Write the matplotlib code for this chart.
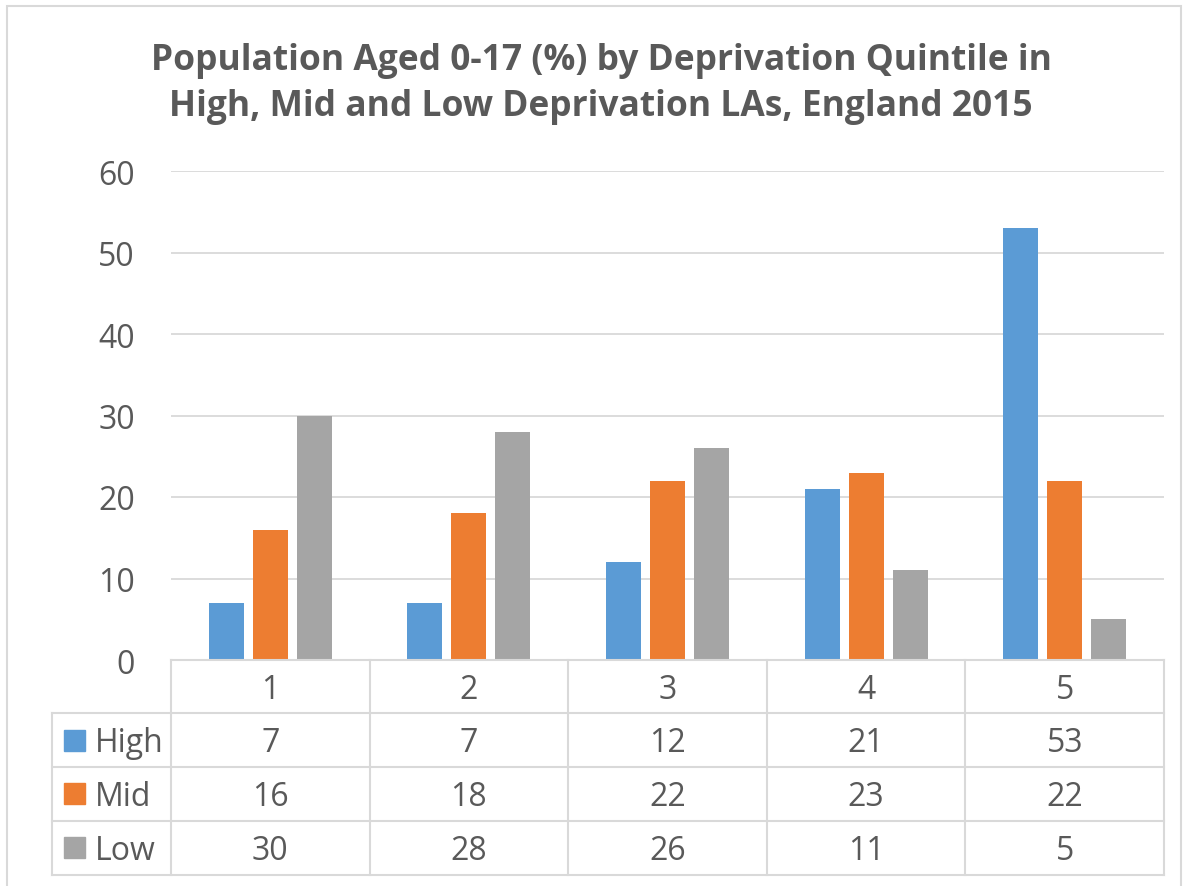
import matplotlib.pyplot as plt
import numpy as np
from matplotlib.patches import Rectangle

quintiles = ['1', '2', '3', '4', '5']
series_names = ['High', 'Mid', 'Low']
high = [7, 7, 12, 21, 53]
mid = [16, 18, 22, 23, 22]
low = [30, 28, 26, 11, 5]
colors = ['#5b9bd5', '#ed7d31', '#a5a5a5']

plt.rcParams['font.family'] = ['Open Sans', 'DejaVu Sans']
text_col = '#595959'
grid_col = '#d9d9d9'

W, H = 1189, 887
fig = plt.figure(figsize=(W / 100, H / 100), dpi=100)

# chart border
fig.add_artist(Rectangle((7 / W, -0.01), (1181 - 7) / W, 1 - 7 / H + 0.01,
                         transform=fig.transFigure, fill=False,
                         edgecolor=grid_col, linewidth=1.5))

# plot area
px_left, px_right, px_top, px_bottom = 171, 1164, 172, 661
ax = fig.add_axes([px_left / W, 1 - px_bottom / H,
                   (px_right - px_left) / W, (px_bottom - px_top) / H])

x = np.arange(len(quintiles))
bw = 0.176
step = 0.2216
for i, (vals, c) in enumerate(zip([high, mid, low], colors)):
    ax.bar(x + (i - 1) * step, vals, width=bw, color=c, zorder=3)

ax.set_xlim(-0.5, len(quintiles) - 0.5)
ax.set_ylim(0, 60)
ax.set_yticks(range(0, 61, 10))
ax.yaxis.grid(True, color=grid_col, linewidth=1.3, zorder=0)
for s in ax.spines.values():
    s.set_visible(False)
ax.tick_params(axis='y', length=0, labelsize=23, labelcolor=text_col, pad=26)
ax.set_xticks([])

fig.text(601 / W, 1 - 84 / H,
         'Population Aged 0-17 (%) by Deprivation Quintile in\nHigh, Mid and Low Deprivation LAs, England 2015',
         ha='center', va='center', fontsize=25.5, fontweight='bold',
         color=text_col, linespacing=1.38)

# data table drawn in pixel coordinates
tab = fig.add_axes([0, 0, 1, 1])
tab.set_xlim(0, W)
tab.set_ylim(H, 0)
tab.axis('off')

col_edges = np.linspace(px_left, px_right, len(quintiles) + 1)
row_edges = [661, 714, 768, 822, 876]
label_left = 52
lw = 1.5

# horizontal lines
tab.plot([px_left, px_right], [row_edges[0]] * 2, color=grid_col, lw=lw)
for y in row_edges[1:]:
    tab.plot([label_left, px_right], [y, y], color=grid_col, lw=lw)
# vertical lines
for xe in col_edges:
    tab.plot([xe, xe], [row_edges[0], row_edges[-1]], color=grid_col, lw=lw)
tab.plot([label_left, label_left], [row_edges[1], row_edges[-1]], color=grid_col, lw=lw)

centers = (col_edges[:-1] + col_edges[1:]) / 2
dy = 3  # nudge text to visual centre of the cell
for cx, q in zip(centers, quintiles):
    tab.text(cx, (row_edges[0] + row_edges[1]) / 2 + dy, q, ha='center', va='center',
             fontsize=23, color=text_col)

for r, (name, vals, c) in enumerate(zip(series_names, [high, mid, low], colors)):
    yc = (row_edges[r + 1] + row_edges[r + 2]) / 2
    tab.add_patch(Rectangle((64, yc - 10.5), 21, 21, color=c))
    tab.text(95, yc + dy, name, ha='left', va='center', fontsize=23, color=text_col)
    for cx, v in zip(centers, vals):
        tab.text(cx, yc + dy, str(v), ha='center', va='center', fontsize=23, color=text_col)

fig.savefig('out.png', dpi=100)
